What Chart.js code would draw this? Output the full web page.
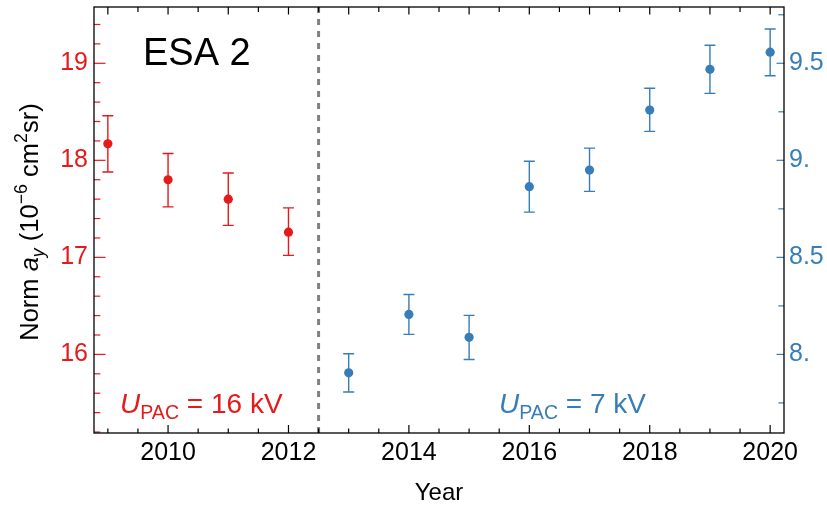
<!DOCTYPE html>
<html><head><meta charset="utf-8">
<script src="https://cdn.jsdelivr.net/npm/chart.js@4/dist/chart.umd.min.js"></script>
<style>html,body{margin:0;padding:0;background:#fff}#wrap{width:827px;height:508px;position:relative}</style>
</head><body><div id="wrap"><canvas id="c" width="827" height="508"></canvas></div>
<script>
// ---- data ----
const years16 = [2009, 2010, 2011, 2012];
const norm16  = [18.17, 17.80, 17.60, 17.26];
const hi16    = [18.46, 18.07, 17.87, 17.51];
const lo16    = [17.88, 17.52, 17.33, 17.02];

const years7 = [2013, 2014, 2015, 2016, 2017, 2018, 2019, 2020];
const norm7  = [7.905, 8.206, 8.088, 8.864, 8.950, 9.259, 9.469, 9.557];
const hi7    = [8.003, 8.309, 8.201, 8.995, 9.063, 9.371, 9.593, 9.677];
const lo7    = [7.806, 8.103, 7.974, 8.733, 8.840, 9.149, 9.345, 9.436];

const xTickLabels     = [2010, 2012, 2014, 2016, 2018, 2020];
const leftTickLabels  = [16, 17, 18, 19];
const rightTickLabels = [8, 8.5, 9, 9.5];
const dividerYear = 2012.5;

const RED = '#e41a1c', BLUE = '#377eb8';
const FONT = '"Liberation Sans", Arial, sans-serif';
const X_MIN = 2008.77, X_MAX = 2020.23;
const YL_MIN = 15.19, YL_MAX = 19.58;
const YR_MIN = 7.595, YR_MAX = 9.79;

function pts(xs, ys, lo, hi) { return xs.map((x, i) => ({x: x, y: ys[i], lo: lo[i], hi: hi[i]})); }

function drawRich(ctx, segs, x, y, size, color, measureOnly) {
  let cx = x;
  for (const s of segs) {
    const fs = (s.sub || s.sup) ? size * 0.7 : size;
    ctx.font = (s.italic ? 'italic ' : '') + fs + 'px ' + FONT;
    const w = ctx.measureText(s.t).width;
    if (!measureOnly) {
      let dy = 0;
      if (s.sub) dy = size * 0.22;
      if (s.sup) dy = -size * 0.42;
      ctx.fillStyle = color;
      ctx.textBaseline = 'alphabetic';
      ctx.textAlign = 'left';
      ctx.fillText(s.t, cx, y + dy);
    }
    cx += w;
  }
  return cx - x;
}

function noPad(s) { s.paddingTop = 0; s.paddingBottom = 0; s.paddingLeft = 0; s.paddingRight = 0; }

const decor = {
  id: 'decor',
  beforeDatasetsDraw(chart) {
    const ctx = chart.ctx;
    ctx.save();
    chart.data.datasets.forEach((ds) => {
      if (!ds.errorBars) return;
      const ys = chart.scales[ds.yAxisID];
      const xs = chart.scales.x;
      ctx.strokeStyle = ds.borderColor;
      ctx.lineWidth = 1.4;
      ds.data.forEach(p => {
        const px = xs.getPixelForValue(p.x);
        const pl = ys.getPixelForValue(p.lo), ph = ys.getPixelForValue(p.hi);
        ctx.beginPath();
        ctx.moveTo(px, pl); ctx.lineTo(px, ph);
        ctx.moveTo(px - 5.5, pl); ctx.lineTo(px + 5.5, pl);
        ctx.moveTo(px - 5.5, ph); ctx.lineTo(px + 5.5, ph);
        ctx.stroke();
      });
    });
    ctx.restore();
  },
  afterDraw(chart) {
    const ctx = chart.ctx;
    const a = chart.chartArea;
    const x = chart.scales.x, yL = chart.scales.yL, yR = chart.scales.yR;
    ctx.save();
    function hTick(v, len, color, top) {
      const px = x.getPixelForValue(v);
      ctx.strokeStyle = color; ctx.beginPath();
      if (top) { ctx.moveTo(px, a.top); ctx.lineTo(px, a.top + len); }
      else { ctx.moveTo(px, a.bottom); ctx.lineTo(px, a.bottom - len); }
      ctx.stroke();
    }
    function vTick(scale, v, len, color, right) {
      const py = scale.getPixelForValue(v);
      ctx.strokeStyle = color; ctx.beginPath();
      if (right) { ctx.moveTo(a.right, py); ctx.lineTo(a.right - len, py); }
      else { ctx.moveTo(a.left, py); ctx.lineTo(a.left + len, py); }
      ctx.stroke();
    }
    ctx.lineWidth = 1.2;
    for (let k = 0; k <= 22; k++) {
      const v = 2009 + k * 0.5;
      hTick(v, xTickLabels.includes(v) ? 8 : 4.5, '#000', false);
      hTick(v, Number.isInteger(v) ? 7.5 : 5, '#000', true);
    }
    for (let k = 0; k <= 21; k++) {
      const v = Math.round((15.2 + k * 0.2) * 10) / 10;
      vTick(yL, v, leftTickLabels.includes(v) ? 11.5 : 6.3, RED, false);
    }
    for (let k = 0; k <= 8; k++) {
      const v = 7.75 + k * 0.25;
      vTick(yR, v, rightTickLabels.includes(v) ? 7.5 : 5.7, BLUE, true);
    }
    ctx.strokeStyle = '#000'; ctx.lineWidth = 1.3;
    ctx.strokeRect(a.left, a.top, a.right - a.left, a.bottom - a.top);

    ctx.fillStyle = '#000';
    ctx.font = '38px ' + FONT;
    ctx.textBaseline = 'alphabetic'; ctx.textAlign = 'left';
    ctx.fillText('ESA 2', 143, 64.5);

    drawRich(ctx, [{t:'U', italic:true}, {t:'PAC', sub:true}, {t:' = 16 kV'}], 120, 413, 28, RED);
    drawRich(ctx, [{t:'U', italic:true}, {t:'PAC', sub:true}, {t:' = 7 kV'}], 499, 413, 28, BLUE);

    const segs = [{t:'Norm '}, {t:'a', italic:true}, {t:'y', italic:true, sub:true}, {t:' (10'}, {t:'\u22126', sup:true}, {t:' cm'}, {t:'2', sup:true}, {t:'sr)'}];
    const w = drawRich(ctx, segs, 0, 0, 25.5, '#000', true);
    ctx.translate(38, 222);
    ctx.rotate(-Math.PI / 2);
    drawRich(ctx, segs, -w / 2, 0, 25.5, '#000');
    ctx.restore();
  }
};

new Chart(document.getElementById('c'), {
  type: 'scatter',
  data: {
    datasets: [
      { label: 'U_PAC = 16 kV', data: pts(years16, norm16, lo16, hi16), yAxisID: 'yL',
        backgroundColor: RED, borderColor: RED, pointRadius: 4.6, pointBorderWidth: 0, errorBars: true },
      { label: 'U_PAC = 7 kV', data: pts(years7, norm7, lo7, hi7), yAxisID: 'yR',
        backgroundColor: BLUE, borderColor: BLUE, pointRadius: 4.6, pointBorderWidth: 0, errorBars: true },
      { type: 'line', label: 'divider', data: [{x: dividerYear, y: YL_MIN}, {x: dividerYear, y: YL_MAX}], yAxisID: 'yL',
        borderColor: '#808080', borderWidth: 3, borderDash: [6, 6], pointRadius: 0, fill: false }
    ]
  },
  options: {
    responsive: false, animation: false, devicePixelRatio: 1,
    layout: { padding: { top: 7, left: 0, right: 0, bottom: 0 } },
    plugins: { legend: { display: false }, tooltip: { enabled: false } },
    scales: {
      x: {
        type: 'linear', position: 'bottom', min: X_MIN, max: X_MAX,
        grid: { display: false, drawTicks: false }, border: { display: false },
        afterBuildTicks: s => { s.ticks = xTickLabels.map(v => ({value: v})); },
        ticks: { color: '#000', font: { size: 25, family: FONT }, padding: 5, maxRotation: 0, autoSkip: false, callback: v => String(v) },
        title: { display: true, text: 'Year', color: '#000', font: { size: 24, family: FONT }, padding: { top: 0, bottom: 0 } },
        afterFit: s => { s.height = 75; noPad(s); }
      },
      yL: {
        type: 'linear', position: 'left', min: YL_MIN, max: YL_MAX,
        grid: { display: false, drawTicks: false }, border: { display: false },
        afterBuildTicks: s => { s.ticks = leftTickLabels.map(v => ({value: v})); },
        ticks: { color: RED, font: { size: 25, family: FONT }, padding: 6, callback: v => String(v) },
        afterFit: s => { s.width = 94; noPad(s); }
      },
      yR: {
        type: 'linear', position: 'right', min: YR_MIN, max: YR_MAX,
        grid: { display: false, drawTicks: false }, border: { display: false },
        afterBuildTicks: s => { s.ticks = rightTickLabels.map(v => ({value: v})); },
        ticks: { color: BLUE, font: { size: 25, family: FONT }, padding: 5, callback: v => Number.isInteger(v) ? v + '.' : String(v) },
        afterFit: s => { s.width = 43; noPad(s); }
      }
    }
  },
  plugins: [decor]
});
</script>
</body></html>
